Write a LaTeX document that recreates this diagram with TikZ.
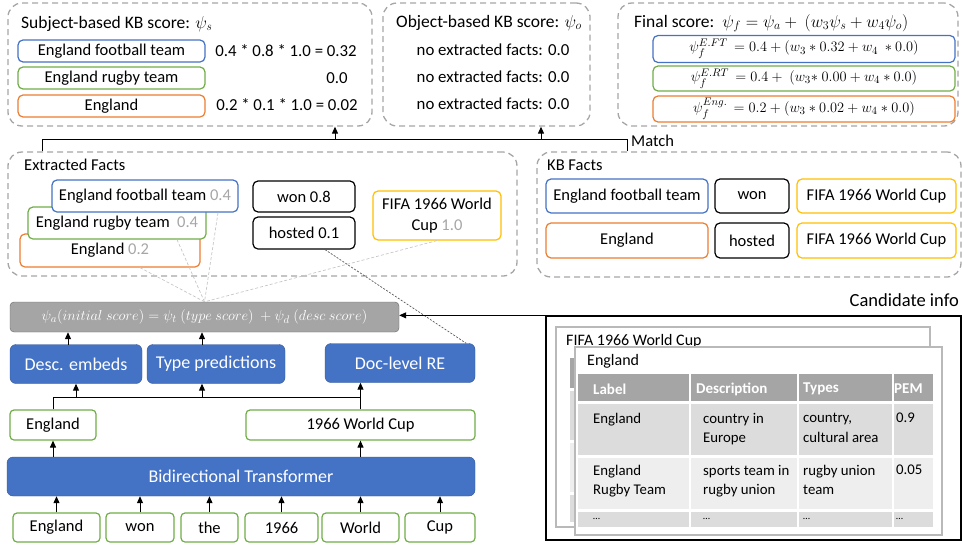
\documentclass[tikz,border=0pt]{standalone}
\usepackage{amsmath}
\usepackage{fontspec}
\setmainfont{Carlito}
\usetikzlibrary{arrows.meta}

\definecolor{kbblue}{HTML}{4472C4}
\definecolor{kbgreen}{HTML}{70AD47}
\definecolor{kborange}{HTML}{ED7D31}
\definecolor{kbyellow}{HTML}{FFC000}
\definecolor{framegray}{HTML}{A6A6A6}
\definecolor{scoregray}{HTML}{A6A6A6}
\definecolor{headfill}{HTML}{A5A5A5}
\definecolor{rowfillA}{HTML}{DCDCDC}
\definecolor{rowfillB}{HTML}{EEEEEE}

\tikzset{
  frame/.style={draw=framegray, dash pattern=on 6pt off 4pt, line width=1.3pt, rounded corners=14pt, inner sep=0pt},
  fact/.style={draw, fill=white, rounded corners=5pt, line width=1.2pt, inner sep=0pt, align=center, font=\fontsize{16.5}{18}\selectfont},
  block/.style={fill=kbblue, draw=kbblue!75!black, rounded corners=6pt, text=white, inner sep=0pt, font=\fontsize{18}{21}\selectfont},
  tok/.style={draw=kbgreen, fill=white, line width=1.2pt, rounded corners=4pt, inner sep=0pt, minimum height=29pt, font=\fontsize{16.5}{18}\selectfont},
  title/.style={anchor=west, inner sep=0pt, font=\fontsize{17.5}{20}\selectfont},
  plain/.style={inner sep=0pt, font=\fontsize{16.8}{19}\selectfont},
  formula/.style={fact, minimum width=302, font=\fontsize{15.7}{18}\selectfont},
  arr/.style={-{Triangle[length=7pt,width=6pt]}, line width=1pt},
  panel/.style={draw=gray!55, fill=white, line width=1.2pt, inner sep=0pt},
  headtxt/.style={anchor=west, inner sep=0pt, text=white, font=\bfseries\fontsize{15}{18}\selectfont},
  celltxt/.style={anchor=north west, inner sep=0pt, align=left, font=\fontsize{14.8}{19.5}\selectfont},
}

\begin{document}
\begin{tikzpicture}[x=1pt,y=-1pt]
\useasboundingbox (0,0) rectangle (962,544);

% score boxes
\node[frame, minimum width=364, minimum height=123] (subj) at (190,64.5) {};
\node[title] (subjT) at (21,24) {Subject-based KB score: $\psi_s$};
\node[fact, draw=kbblue, minimum width=187, minimum height=22] (sB) at (111.5,51) {England football team};
\node[fact, draw=kbgreen, minimum width=187, minimum height=22] (sG) at (111.5,78) {England rugby team};
\node[fact, draw=kborange, minimum width=187, minimum height=22] (sO) at (111.5,106) {England};
\node[plain] (sB1) at (286,51) {0.4 * 0.8 * 1.0 = 0.32};
\node[plain] (sG1) at (337,78) {0.0};
\node[plain] (sO1) at (287,105) {0.2 * 0.1 * 1.0 = 0.02};

\node[frame, minimum width=207, minimum height=123] (obj) at (486.5,64.5) {};
\node[plain, font=\fontsize{17.5}{20}\selectfont] (objT) at (489,23) {Object-based KB score: $\psi_o$};
\node[plain] (o1) at (493,50) {no extracted facts: 0.0};
\node[plain] (o2) at (493,77) {no extracted facts: 0.0};
\node[plain] (o3) at (493,104) {no extracted facts: 0.0};

\node[frame, minimum width=340, minimum height=123] (fin) at (788,64.5) {};
\node[title] (finT) at (634,23) {Final score:\hspace{8pt}$\psi_f = \psi_a +\ (w_3\psi_s + w_4\psi_o)$};
\node[formula, draw=kbblue, minimum height=27] (fB) at (804,49) {$\psi_f^{E.FT}\,= 0.4 + (w_3 * 0.32 + w_4\ * 0.0)$};
\node[formula, draw=kbgreen, minimum height=25] (fG) at (804,78.5) {$\psi_f^{E.RT}\,= 0.4 +\ (w_3{*}\ 0.00 + w_4 * 0.0)$};
\node[formula, draw=kborange, minimum height=26] (fO) at (804,109) {$\psi_f^{Eng.}\,= 0.2 + (w_3 * 0.02 + w_4 * 0.0)$};

% extracted facts
\node[frame, minimum width=509, minimum height=124] (ef) at (262.5,214) {};
\node[title, font=\fontsize{16.5}{19}\selectfont] (efT) at (24,165) {Extracted Facts};
\node[fact, draw=kborange, minimum width=180, minimum height=33] (efO) at (110,250.5) {England {\color{scoregray}0.2}};
\node[fact, draw=kbgreen, minimum width=178, minimum height=32] (efG) at (117,223) {England rugby team\ \ {\color{scoregray}0.4}};
\node[fact, draw=kbblue, minimum width=186, minimum height=32] (efB) at (145,196) {England football team {\color{scoregray}0.4}};
\node[fact, minimum width=102, minimum height=31] (won) at (304,196.5) {won 0.8};
\node[fact, minimum width=102, minimum height=32] (hosted) at (304,233) {hosted 0.1};
\node[fact, draw=kbyellow, minimum width=128, minimum height=49, font=\fontsize{16.5}{21}\selectfont] (fifa) at (437,215.5) {FIFA 1966 World\\Cup {\color{scoregray}1.0}};

% kb facts
\node[frame, minimum width=424, minimum height=125] (kb) at (749,214.5) {};
\node[title, font=\fontsize{16.5}{19}\selectfont] (kbT) at (547,165) {KB Facts};
\node[fact, draw=kbblue, minimum width=162, minimum height=34] (kbB) at (627,196) {England football team};
\node[fact, minimum width=74, minimum height=34] (kbW) at (752,196) {won};
\node[fact, draw=kbyellow, minimum width=159, minimum height=34] (kbF1) at (876.5,196) {FIFA 1966 World Cup};
\node[fact, draw=kborange, minimum width=162, minimum height=35] (kbO) at (627,240.5) {England};
\node[fact, minimum width=74, minimum height=35] (kbH) at (752,240.5) {hosted};
\node[fact, draw=kbyellow, minimum width=159, minimum height=35] (kbF2) at (876.5,240.5) {FIFA 1966 World Cup};

% match
\coordinate (mL) at (42,139);
\coordinate (mR) at (627,139);
\draw[line width=1pt] (mL |- ef.north) -- (mL) -- (mR) -- (mR |- kb.north);
\node[anchor=west, plain, font=\fontsize{16.5}{19}\selectfont] (match) at (631,141) {Match};
\coordinate (aS) at (335,139);
\coordinate (aO) at (541,139);
\draw[arr] (aS) -- (aS |- subj.south);
\draw[arr] (aO) -- (aO |- obj.south);

% model
\node[minimum width=389, minimum height=30, fill=headfill, draw=gray!80!black, rounded corners=4pt, inner sep=0pt, text=white, font=\fontsize{15.5}{18}\selectfont] (psia) at (204.5,317) {$\psi_a(initial\ score) = \psi_t\ (type\ score)\ + \psi_d\ (desc\ score)$};
\node[block, minimum width=132, minimum height=39] (desc) at (76,364) {Desc. embeds};
\node[block, minimum width=138, minimum height=39] (type) at (216,364) {Type predictions};
\node[block, minimum width=150, minimum height=39] (doc) at (400,363) {Doc-level RE};
\node[tok, minimum width=86, minimum height=30] (eng) at (53,425) {England};
\node[tok, minimum width=229, minimum height=30] (wc) at (360.5,425) {1966 World Cup};
\node[block, minimum width=468, minimum height=39] (bt) at (241,476.5) {Bidirectional Transformer};

\foreach \w/\x/\bw [count=\i] in {England/56.5/87, won/140/68, the/209.5/57, 1966/281.5/73, World/360.5/77, Cup/440/70}{
  \node[tok, minimum width=\bw] (t\i) at (\x,527.5) {\w};
  \draw[arr] (t\i.north) -- (t\i.north |- bt.south);
}
\draw[arr] (eng.south |- bt.north) -- (eng.south);
\draw[arr] (wc.south |- bt.north) -- (wc.south);

\coordinate (jL) at (53,397);
\coordinate (jR) at (360,397);
\coordinate (jT) at (202,397);
\draw[line width=1pt] (eng.north) -- (jL) -- (jR);
\draw[arr] (wc.north) -- (wc.north |- doc.south);
\draw[arr] (jL -| desc.south) -- (desc.south);
\draw[arr] (jT) -- (jT |- type.south);
\coordinate (dA) at (68,345);
\coordinate (tA) at (202,345);
\draw[arr] (dA) -- (dA |- psia.south);
\draw[arr] (tA) -- (tA |- psia.south);

% links from facts
\draw[gray!45, dash pattern=on 3pt off 2pt, line width=.7pt] ([xshift=30pt]efO.south) -- (psia.north);
\draw[gray!45, dash pattern=on 3pt off 2pt, line width=.7pt] ([xshift=60pt]efG.south) -- (psia.north);
\draw[gray!45, dash pattern=on 3pt off 2pt, line width=.7pt] ([xshift=73pt]efB.south) -- (psia.north);
\draw[gray!45, dash pattern=on 3pt off 2pt, line width=.7pt] (fifa.south) -- (psia.north);
\draw[gray!70!black, dash pattern=on 2pt off 1.5pt, line width=.7pt] ([xshift=21pt]hosted.south) -- ([xshift=-9pt]doc.north east);

% candidate info
\node[anchor=east, plain, font=\fontsize{18.5}{21}\selectfont] (candT) at (959,300) {Candidate info};
\node[draw, line width=1.3pt, minimum width=415, minimum height=224, inner sep=0pt] (cand) at (753.5,428) {};
\draw[arr] (cand.north west) -- (cand.north west -| psia.east);

\node[panel, minimum width=374, minimum height=200] (back) at (743,427) {};
\node[title, font=\fontsize{16}{19}\selectfont] (backT) at (566,341) {FIFA 1966 World Cup};
\fill[headfill] (570,358) rectangle (700,388);
\fill[rowfillA] (570,391) rectangle (700,440);
\fill[rowfillB] (570,443) rectangle (700,492);
\fill[rowfillA] (570,495) rectangle (700,522);

\node[panel, minimum width=367, minimum height=188] (front) at (758.5,441) {};
\node[title, font=\fontsize{16}{19}\selectfont] (frontT) at (587,361) {England};
\foreach \xa/\xb in {578/689,691/797,799/892,894/933}{
  \fill[headfill] (\xa,374) rectangle (\xb,401);
  \fill[rowfillA] (\xa,404) rectangle (\xb,455);
  \fill[rowfillB] (\xa,458) rectangle (\xb,509);
  \fill[rowfillA] (\xa,512) rectangle (\xb,527);
}
\foreach \x/\h in {593/Label, 696/Description, 803/Types, 894/PEM}
  \node[headtxt] (h\x) at (\x,389) {\h};
\node[celltxt] (c11) at (593,413) {England};
\node[celltxt] (c12) at (703,413) {country in\\Europe};
\node[celltxt] (c13) at (803,413) {country,\\cultural area};
\node[celltxt] (c14) at (896,413) {0.9};
\node[celltxt] (c21) at (593,465) {England\\Rugby Team};
\node[celltxt] (c22) at (703,465) {sports team in\\rugby union};
\node[celltxt] (c23) at (803,465) {rugby union\\team};
\node[celltxt] (c24) at (896,465) {0.05};
\foreach \x in {593,703,803,896}
  \node[celltxt, font=\fontsize{10}{12}\selectfont] (d\x) at (\x,518) {\ldots};
\end{tikzpicture}
\end{document}
